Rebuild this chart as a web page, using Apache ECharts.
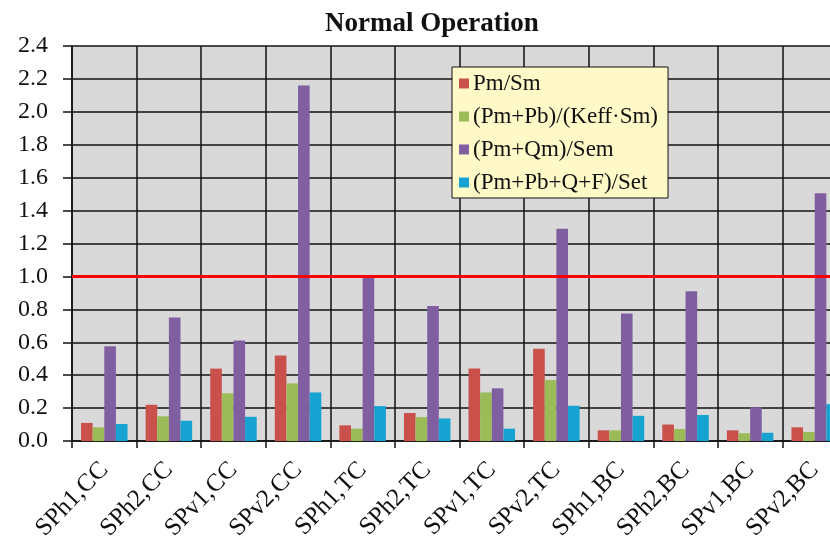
<!DOCTYPE html>
<html>
<head>
<meta charset="utf-8">
<script src="https://cdn.jsdelivr.net/npm/echarts@6/dist/echarts.min.js"></script>
<style>html,body{margin:0;padding:0;background:#fff}#c{width:830px;height:540px}</style>
</head>
<body>
<div id="c"></div>
<script>
const categories = ['SPh1,CC','SPh2,CC','SPv1,CC','SPv2,CC','SPh1,TC','SPh2,TC','SPv1,TC','SPv2,TC','SPh1,BC','SPh2,BC','SPv1,BC','SPv2,BC'];
const seriesNames = ['Pm/Sm','(Pm+Pb)/(Keff·Sm)','(Pm+Qm)/Sem','(Pm+Pb+Q+F)/Set'];
const pmSm      = [0.11, 0.22, 0.44, 0.52, 0.095, 0.17, 0.44, 0.56, 0.065, 0.10, 0.065, 0.083];
const pmPbKeff  = [0.083, 0.15, 0.29, 0.35, 0.075, 0.145, 0.295, 0.37, 0.065, 0.073, 0.047, 0.055];
const pmQmSem   = [0.575, 0.75, 0.61, 2.16, 1.0, 0.82, 0.32, 1.29, 0.775, 0.91, 0.205, 1.505];
const pmPbQFSet = [0.103, 0.123, 0.147, 0.295, 0.212, 0.137, 0.075, 0.214, 0.153, 0.158, 0.05, 0.224];
const yTicks = [0,0.2,0.4,0.6,0.8,1.0,1.2,1.4,1.6,1.8,2.0,2.2,2.4];
const limitValue = 1.0;
const colors = ['#c9504b','#9bbb59','#7f5fa0','#17a3d2'];

const font = 'Liberation Serif';
const chart = echarts.init(document.getElementById('c'));
const allData = [pmSm, pmPbKeff, pmQmSem, pmPbQFSet];
const series = allData.map((d,i)=>({
  name: seriesNames[i],
  type: 'bar',
  data: d,
  barGap: '0%',
  barCategoryGap: '28%',
  itemStyle: {color: colors[i]},
  z: 3
}));
series[0].markLine = {
  silent: true,
  symbol: ['none','none'],
  label: {show: false},
  lineStyle: {color: '#ff0000', width: 3, type: 'solid'},
  data: [{yAxis: limitValue}],
  z: 5
};
chart.setOption({
  animation: false,
  backgroundColor: '#ffffff',
  color: colors,
  textStyle: {fontFamily: font},
  title: {
    text: 'Normal Operation',
    left: 320, top: 6,
    textStyle: {fontFamily: font, fontWeight: 'bold', fontSize: 27, color: '#111'}
  },
  legend: {
    orient: 'vertical',
    left: 452, top: 67,
    backgroundColor: '#fff9c8',
    borderColor: '#111', borderWidth: 1,
    padding: [5, 10, 4, 7],
    itemWidth: 10, itemHeight: 10, itemGap: 10,
    icon: 'rect',
    textStyle: {fontFamily: font, fontSize: 23, color: '#111', padding: [0,0,0,-1]},
    data: seriesNames
  },
  grid: {
    left: 72, top: 46, bottom: 99, right: -17,
    show: true, backgroundColor: '#d9d9d9', borderWidth: 0,
    containLabel: false,
    outerBoundsMode: 'none'
  },
  xAxis: {
    type: 'category',
    data: categories,
    axisLine: {lineStyle: {color: '#111', width: 1.5}},
    axisTick: {show: true, length: 7, lineStyle: {color: '#111', width: 1.5}},
    splitLine: {show: true, interval: 0, lineStyle: {color: '#111', width: 1.5}},
    axisLabel: {interval: 0, rotate: 46, margin: 25, fontFamily: font, fontSize: 25, color: '#111'}
  },
  yAxis: {
    type: 'value',
    min: yTicks[0], max: yTicks[yTicks.length-1], interval: 0.2,
    axisLine: {show: true, lineStyle: {color: '#111', width: 1.5}},
    axisTick: {show: true, length: 9, lineStyle: {color: '#111', width: 1.5}},
    splitLine: {show: true, lineStyle: {color: '#111', width: 1.5}},
    axisLabel: {
      margin: 24, fontFamily: font, fontSize: 24, color: '#111',
      formatter: v => '{s|' + v.toFixed(1) + '}',
      rich: {s: {fontFamily: font, fontSize: 24, color: '#111'}}
    }
  },
  series: series
});
</script>
</body>
</html>
